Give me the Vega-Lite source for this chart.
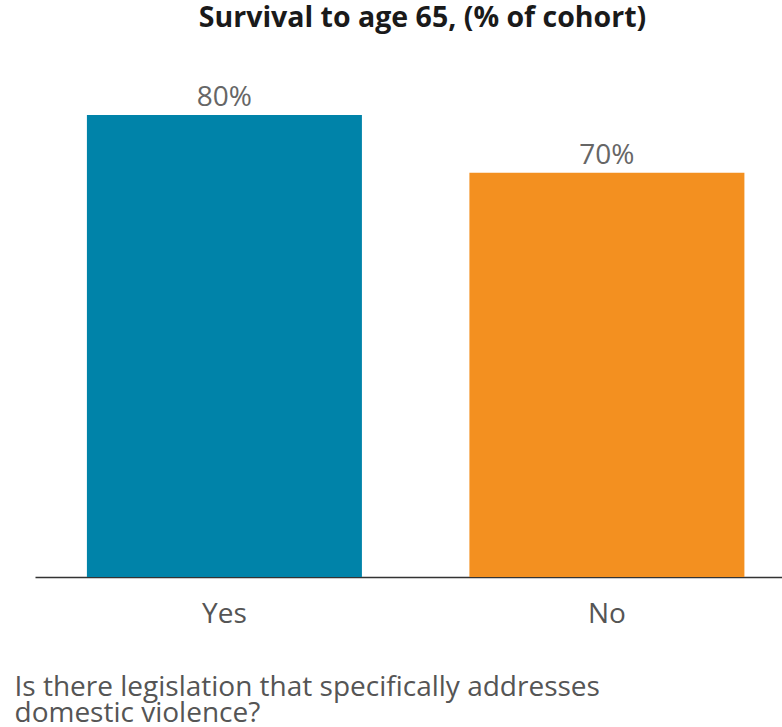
{
  "$schema": "https://vega.github.io/schema/vega-lite/v6.json",
  "autosize": "none",
  "width": 747,
  "height": 462,
  "padding": {"left": 35, "top": 115, "right": 0, "bottom": 150},
  "background": "white",
  "config": {"view": {"stroke": null}, "font": "Open Sans"},
  "title": {
    "text": "Survival to age 65, (% of cohort)",
    "fontSize": 28.5,
    "fontWeight": "bold",
    "color": "#1a1a1a",
    "anchor": "middle",
    "baseline": "alphabetic",
    "offset": 29,
    "dx": 14
  },
  "data": {
    "values": [
      {"answer": "Yes", "survival": 0.80},
      {"answer": "No", "survival": 0.70}
    ]
  },
  "encoding": {
    "x": {
      "field": "answer",
      "type": "nominal",
      "sort": ["Yes", "No"],
      "scale": {"paddingInner": 0.281, "paddingOuter": 0.117, "align": 0.58},
      "axis": {
        "title": ["Is there legislation that specifically addresses", "domestic violence?"],
        "titleAnchor": "start",
        "titleAlign": "left",
        "titleX": -21,
        "titleY": 118,
        "titleBaseline": "alphabetic",
        "titleLineHeight": 26,
        "titleFontSize": 28,
        "titleFontWeight": "normal",
        "titleColor": "#555555",
        "labelAngle": 0,
        "labelFontSize": 28,
        "labelColor": "#555555",
        "labelBaseline": "alphabetic",
        "labelPadding": 45,
        "ticks": false,
        "domainColor": "#333333",
        "domainWidth": 1.5,
        "grid": false
      }
    },
    "y": {
      "field": "survival",
      "type": "quantitative",
      "scale": {"domain": [0, 0.8], "nice": false, "zero": true},
      "axis": null
    }
  },
  "layer": [
    {
      "mark": {"type": "bar"},
      "encoding": {
        "color": {
          "field": "answer",
          "type": "nominal",
          "scale": {"domain": ["Yes", "No"], "range": ["#0083A9", "#F39020"]},
          "legend": null
        }
      }
    },
    {
      "mark": {"type": "text", "baseline": "alphabetic", "dy": -9, "fontSize": 28, "color": "#666666"},
      "encoding": {
        "text": {"field": "survival", "type": "quantitative", "format": ".0%"}
      }
    }
  ]
}
